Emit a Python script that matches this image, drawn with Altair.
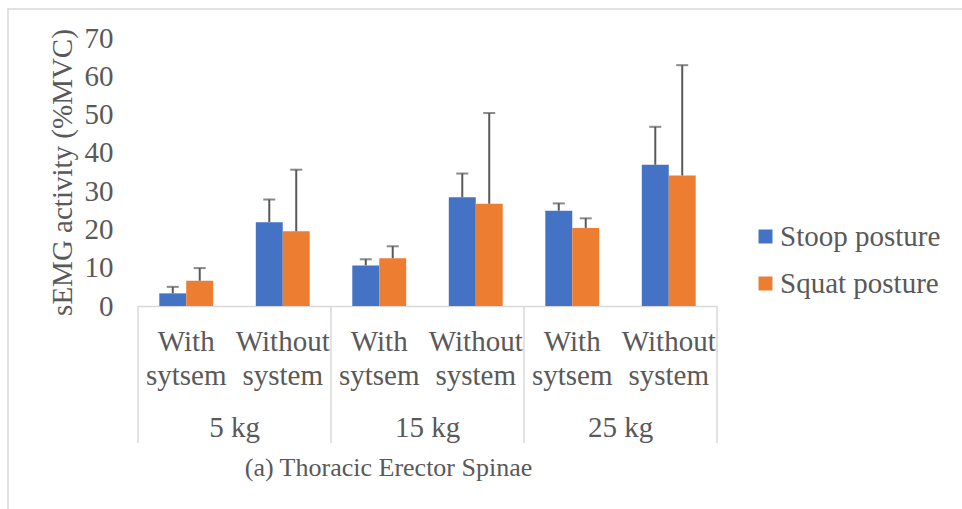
import altair as alt
import pandas as pd

# Categories
weights = ["5 kg", "15 kg", "25 kg"]
conditions = ["With sytsem", "Without system"]
postures = ["Stoop posture", "Squat posture"]

# Mean sEMG activity (%MVC) and standard deviation, ordered by weight then condition
stoop_mean = [3.3, 21.9, 10.6, 28.4, 24.9, 36.9]
stoop_sd = [1.7, 5.9, 1.6, 6.2, 1.9, 9.9]
squat_mean = [6.6, 19.5, 12.5, 26.7, 20.4, 34.1]
squat_sd = [3.3, 16.1, 3.1, 23.7, 2.5, 28.8]

y_ticks = [0, 10, 20, 30, 40, 50, 60, 70]

keys = [f"{w}|{c}" for w in weights for c in conditions]

rows = []
for i, k in enumerate(keys):
    rows.append({"cat": k, "posture": postures[0], "mean": stoop_mean[i], "sd": stoop_sd[i]})
    rows.append({"cat": k, "posture": postures[1], "mean": squat_mean[i], "sd": squat_sd[i]})
df = pd.DataFrame(rows)

groups = pd.DataFrame({
    "start": [f"{w}|{conditions[0]}" for w in weights],
    "mid": [f"{w}|{conditions[1]}" for w in weights],
    "weight": weights,
})
last = pd.DataFrame({"cat": [keys[-1]]})
frame = pd.DataFrame({"k": [0]})

FONT = "Liberation Serif"
GREY = "#595959"
LINE = "#d9d9d9"
W, H = 579, 268

x_scale = alt.Scale(domain=keys, paddingInner=0, paddingOuter=0)
y_scale = alt.Scale(domain=[0, 70], nice=False)

x_axis = alt.Axis(
    title="(a) Thoracic Erector Spinae",
    labelExpr="split(split(datum.label, '|')[1], ' ')",
    labelAngle=0,
    labelFontSize=29,
    labelFont=FONT,
    labelColor=GREY,
    labelLineHeight=34,
    labelPadding=35,
    labelBaseline="middle",
    labelOverlap=False,
    labelLimit=0,
    ticks=False,
    domainColor=LINE,
    domainWidth=1.5,
    titleFont=FONT,
    titleFontSize=26,
    titleFontWeight="normal",
    titleColor=GREY,
    titleX=250,
    titleY=161,
    titleAlign="center",
    titleBaseline="middle",
)

y_axis = alt.Axis(
    title="sEMG activity (%MVC)",
    values=y_ticks,
    grid=False,
    ticks=False,
    tickSize=0,
    domain=False,
    labelOverlap=False,
    labelFontSize=29,
    labelFont=FONT,
    labelColor=GREY,
    labelPadding=25,
    labelBaseline="middle",
    titleFont=FONT,
    titleFontSize=29,
    titleFontWeight="normal",
    titleColor=GREY,
    titleAngle=270,
    titleX=-76,
    titleY=H / 2,
    titleAlign="center",
    titleBaseline="middle",
)

base = alt.Chart(df)

bars = base.mark_bar().encode(
    x=alt.X("cat:N", scale=x_scale, axis=x_axis),
    xOffset=alt.XOffset("posture:N", sort=postures,
                        scale=alt.Scale(domain=postures, paddingOuter=0.79, paddingInner=0)),
    y=alt.Y("mean:Q", scale=y_scale, axis=y_axis),
    color=alt.Color(
        "posture:N",
        sort=postures,
        scale=alt.Scale(domain=postures, range=["#4472C4", "#ED7D31"]),
        legend=alt.Legend(
            title=None,
            orient="none",
            legendX=613,
            legendY=184,
            symbolType="square",
            symbolSize=196,
            symbolStrokeWidth=0,
            labelFont=FONT,
            labelFontSize=29,
            labelColor=GREY,
            labelOffset=0,
            labelLimit=0,
            rowPadding=17,
        ),
    ),
)

err = base.transform_calculate(upper="datum.mean + datum.sd")

err_line = err.mark_rule(color=GREY, strokeWidth=2).encode(
    x=alt.X("cat:N", scale=x_scale, axis=x_axis),
    xOffset=alt.XOffset("posture:N", sort=postures),
    y=alt.Y("mean:Q", scale=y_scale, axis=y_axis),
    y2="upper:Q",
)

err_cap = err.mark_tick(color=GREY, thickness=2, size=12, orient="horizontal").encode(
    x=alt.X("cat:N", scale=x_scale, axis=x_axis),
    xOffset=alt.XOffset("posture:N", sort=postures),
    y=alt.Y("upper:Q", scale=y_scale, axis=y_axis),
)

# Vertical dividers of the two-level category axis
dividers = alt.Chart(groups).mark_rule(color=LINE, strokeWidth=1.5).encode(
    x=alt.X("start:N", scale=x_scale, bandPosition=0, axis=x_axis),
    y=alt.value(H),
    y2=alt.value(H + 137),
)
end_divider = alt.Chart(last).mark_rule(color=LINE, strokeWidth=1.5).encode(
    x=alt.X("cat:N", scale=x_scale, bandPosition=1, axis=x_axis),
    y=alt.value(H),
    y2=alt.value(H + 137),
)

group_labels = alt.Chart(groups).mark_text(
    font=FONT, fontSize=29, color=GREY, baseline="middle", align="center"
).encode(
    x=alt.X("mid:N", scale=x_scale, bandPosition=0, axis=x_axis),
    y=alt.value(H + 122),
    text="weight:N",
)

# Light chart-area border (left and top edges)
border_left = alt.Chart(frame).mark_rule(color=LINE, strokeWidth=1.5).encode(
    x=alt.value(-130), y=alt.value(-30), y2=alt.value(480)
)
border_top = alt.Chart(frame).mark_rule(color=LINE, strokeWidth=1.5).encode(
    x=alt.value(-130), x2=alt.value(830), y=alt.value(-29)
)

chart = alt.layer(
    border_left, border_top, bars, err_line, err_cap, dividers, end_divider, group_labels
).properties(
    width=W,
    height=H,
    autosize=alt.AutoSizeParams(type="none"),
    padding={"left": 138, "top": 38, "right": 245, "bottom": 203},
    background="white",
).configure_view(stroke=None)

chart.save("out.html", embed_options={"renderer": "svg", "actions": False})
